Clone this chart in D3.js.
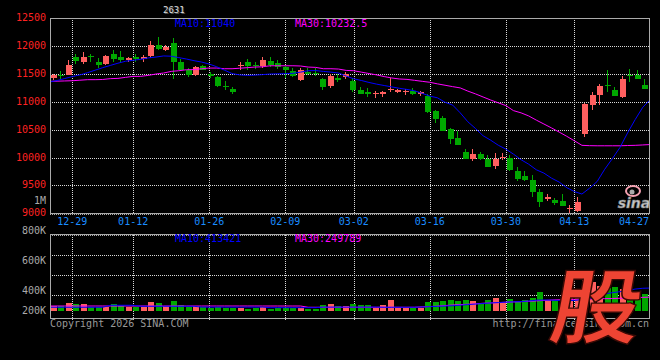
<!DOCTYPE html>
<html><head><meta charset="utf-8">
<script src="https://cdn.jsdelivr.net/npm/d3@7/dist/d3.min.js"></script>
<style>html,body{margin:0;padding:0;background:#000;} svg{display:block;}</style>
</head><body><svg id="c" width="660" height="360"></svg>
<script>
const dates = ["12-23","12-24","12-26","12-29","12-30","12-31","01-05","01-06","01-07","01-08",
"01-09","01-12","01-13","01-14","01-15","01-16","01-19","01-20","01-21","01-22",
"01-23","01-26","01-27","01-28","01-29","01-30","02-02","02-03","02-04","02-05",
"02-06","02-09","02-10","02-11","02-12","02-13","02-24","02-25","02-26","02-27",
"03-02","03-03","03-04","03-05","03-06","03-09","03-10","03-11","03-12","03-13",
"03-16","03-17","03-18","03-19","03-20","03-23","03-24","03-25","03-26","03-27",
"03-30","03-31","04-01","04-02","04-06","04-07","04-08","04-09","04-10","04-13",
"04-14","04-15","04-16","04-17","04-20","04-21","04-22","04-23","04-24","04-27"];

const open = [11425,11484,11484,11810,11703,11823,11720,11675,11858,11800,
11740,11810,11763,11823,12019,11930,12045,11703,11573,11472,
11632,11497,11437,11290,11234,11640,11703,11660,11632,11733,
11692,11621,11543,11395,11525,11514,11407,11275,11430,11443,
11365,11217,11170,11134,11146,11205,11170,11170,11188,11140,
11098,10830,10700,10504,10343,10106,9969,10058,9969,9850,
10000,10000,9760,9671,9600,9375,9256,9244,9215,9078,
9050,10415,10937,11127,11300,11217,11087,11484,11484,11306];
const high = [11500,11555,11740,11853,11889,11853,11790,11830,11930,11900,
11810,11850,11840,12095,12156,12010,12138,11770,11600,11640,
11662,11535,11465,11365,11270,11705,11764,11705,11810,11800,
11750,11632,11600,11603,11600,11600,11425,11490,11490,11530,
11425,11260,11240,11200,11200,11425,11230,11220,11240,11200,
11146,10860,10740,10530,10473,10160,10147,10100,10040,10075,
10080,10040,9830,9760,9690,9434,9345,9270,9345,9150,
9290,10980,11170,11318,11560,11258,11454,11590,11560,11413];
const low = [11390,11410,11472,11675,11680,11720,11605,11660,11720,11690,
11720,11720,11720,11790,11930,11915,11407,11543,11450,11460,
11560,11430,11270,11217,11130,11565,11573,11580,11605,11620,
11590,11425,11440,11365,11470,11460,11217,11240,11350,11400,
11170,11130,11083,11070,11090,11170,11150,11115,11120,11100,
10789,10622,10473,10236,10218,9969,9940,9950,9832,9790,
9950,9760,9570,9570,9290,9110,9220,9140,9137,9010,
9020,10374,10850,10937,11170,11098,11070,11347,11400,11230];
const close = [11484,11466,11662,11721,11805,11800,11650,11823,11769,11740,
11792,11757,11810,12019,11942,11988,11703,11573,11472,11614,
11573,11466,11275,11265,11170,11662,11632,11645,11751,11662,
11621,11561,11466,11561,11502,11490,11265,11454,11395,11502,
11217,11146,11134,11158,11170,11229,11205,11188,11146,11170,
10812,10682,10473,10325,10218,9969,10058,9969,9832,9969,
10015,9780,9612,9600,9375,9197,9285,9185,9137,9100,
9197,10950,11127,11288,11275,11110,11413,11454,11407,11230];

const volume = [90000,90000,150000,126000,126000,67000,67000,67000,126000,85000,
67000,67000,77000,167000,150000,90000,185000,103000,67000,90000,
67000,60000,67000,60000,60000,60000,41000,49000,77000,41000,
60000,60000,60000,60000,41000,41000,108000,126000,90000,90000,
126000,108000,108000,60000,108000,198000,60000,60000,60000,60000,
167000,167000,185000,203000,185000,203000,180000,139000,198000,239000,
139000,216000,167000,198000,239000,347000,198000,198000,220000,280000,
350000,600000,527000,450000,420000,437000,400000,306000,330000,306000];

const ma10 = [11354,11380,11415,11450,11480,11520,11565,11610,11650,11690,
11725,11742,11760,11785,11800,11820,11815,11790,11765,11735,
11710,11675,11625,11565,11505,11480,11472,11476,11485,11496,
11500,11502,11508,11530,11555,11558,11543,11530,11514,11460,
11410,11380,11345,11315,11290,11265,11240,11220,11195,11150,
11100,11070,10990,10940,10800,10640,10520,10390,10310,10220,
10150,10060,9960,9880,9780,9720,9630,9560,9460,9390,
9345,9450,9570,9790,9980,10180,10440,10680,10900,11040];
const ma30 = [11365,11368,11372,11376,11385,11395,11395,11398,11413,11418,
11436,11454,11454,11472,11496,11514,11543,11555,11573,11575,
11591,11603,11603,11591,11591,11600,11610,11621,11625,11644,
11644,11644,11644,11640,11621,11615,11591,11591,11585,11561,
11555,11530,11505,11480,11450,11425,11407,11400,11383,11365,
11348,11320,11295,11270,11247,11190,11140,11085,11030,10980,
10930,10840,10800,10745,10670,10600,10530,10456,10380,10300,
10218,10212,10210,10210,10210,10210,10215,10218,10225,10232.5];

const volMa10 = [67000,67000,67000,67000,67000,67000,67000,67000,103000,103000,
103000,103000,85000,85000,85000,85000,85000,85000,85000,85000,
70000,70000,70000,70000,70000,70000,70000,70000,70000,60000,
60000,60000,60000,60000,60000,60000,70000,70000,70000,70000,
70000,70000,70000,70000,67000,67000,67000,67000,67000,72000,
78000,84000,90000,95000,105000,115000,125000,135000,145000,152000,
160000,165000,170000,180000,195000,198000,195000,190000,185000,190000,
205000,216000,260000,306000,330000,347000,370000,395000,409000,413421];
const volMa30 = [90000,90000,90000,90000,90000,90000,90000,90000,90000,90000,
90000,90000,90000,90000,90000,90000,90000,90000,90000,90000,
90000,90000,90000,90000,90000,90000,90000,90000,90000,90000,
90000,90000,90000,90000,67000,67000,67000,67000,67000,67000,
67000,67000,67000,67000,67000,67000,67000,67000,67000,75000,
80000,88000,98000,108000,115000,122000,128000,139000,145000,150000,
158000,163000,167000,175000,182000,190000,198000,202000,206000,210000,
214000,216000,219000,222000,225000,229000,235000,240000,245000,249789];

const priceTicks = [12500,12000,11500,11000,10500,10000,9500,9000];
const tickDates = ["12-29","01-12","01-26","02-09","03-02","03-16","03-30","04-13","04-27"];
const volTickValues = [1000000,800000,600000,400000,200000];
const volTickLabels = ["1M","800K","600K","400K","200K"];

const UP = "#ff5f5f", DOWN = "#00a800";
const GRID = "#d8d8d8", BORDER = "#aaaaaa";
const FONT = "'DejaVu Sans Mono', monospace";

const svg = d3.select("#c");
svg.append("rect").attr("width",660).attr("height",360).attr("fill","#000");

const L = 50, R = 649, T = 18, B = 213.3, VT = 234.5, VB = 318.5, VBASE = 311;

const xBand = d3.scaleBand().domain(d3.range(dates.length)).range([L, R]).paddingInner(0.2).paddingOuter(0.1);
const xLine = d3.scaleLinear().domain([0, dates.length - 1]).range([49.5, 650.4]);
const y = d3.scaleLinear().domain([9000, 12500]).range([B, T]);
const yVol = d3.scaleLinear().domain([0, 1000000]).range([VBASE, VBASE - 1000000/18000]);
const yVolLab = d3.scaleLinear().domain([200000, 1000000]).range([321, 200]);

const px = v => Math.round(v) + 0.5;

svg.append("defs").append("clipPath").attr("id","clipM").append("rect").attr("x",L).attr("y",T).attr("width",R-L+1).attr("height",B-T+1);
svg.select("defs").append("clipPath").attr("id","clipV").append("rect").attr("x",L).attr("y",VT).attr("width",R-L+1).attr("height",VB-VT);

// ---------- grids ----------
const g = svg.append("g").attr("shape-rendering","crispEdges");
const tickIdx = tickDates.map(t => dates.indexOf(t));
g.selectAll(".hg").data(priceTicks.filter(v => v > 9000 && v < 12500)).enter().append("line")
  .attr("x1",L).attr("x2",R).attr("y1",d=>px(y(d))).attr("y2",d=>px(y(d)))
  .attr("stroke",GRID).attr("stroke-dasharray","1,1");
g.selectAll(".vg").data(tickIdx.slice(0,-1)).enter().append("line")
  .attr("x1",d=>px(xLine(d))).attr("x2",d=>px(xLine(d))).attr("y1",T).attr("y2",B)
  .attr("stroke",GRID).attr("stroke-dasharray","1,1");
[1,2,3].forEach(k => {
  g.append("line").attr("x1",L).attr("x2",R).attr("y1",VT+20*k+0.5).attr("y2",VT+20*k+0.5)
   .attr("stroke",GRID).attr("stroke-dasharray","1,1");
});
g.selectAll(".vvg").data(tickIdx.slice(0,-1)).enter().append("line")
  .attr("x1",d=>px(xLine(d))).attr("x2",d=>px(xLine(d))).attr("y1",VT).attr("y2",VB+2)
  .attr("stroke",GRID).attr("stroke-dasharray","1,1");

// ---------- candles ----------
const bw = Math.round(xBand.bandwidth());
const cg = svg.append("g").attr("clip-path","url(#clipM)").attr("shape-rendering","crispEdges");
dates.forEach((d,i) => {
  const col = close[i] >= open[i] ? UP : DOWN;
  const x0 = Math.round(xBand(i));
  cg.append("line").attr("x1",x0+2.5).attr("x2",x0+2.5)
    .attr("y1",y(high[i])).attr("y2",y(low[i])).attr("stroke",col).attr("stroke-width",1);
  const yt = y(Math.max(open[i],close[i])), yb = y(Math.min(open[i],close[i]));
  cg.append("rect").attr("x",x0).attr("width",bw).attr("y",yt).attr("height",Math.max(1,yb-yt)).attr("fill",col);
});

const lineM = arr => d3.line().x((d,i)=>xLine(i)).y(d=>y(d))(arr);
const lg = svg.append("g").attr("clip-path","url(#clipM)");
lg.append("path").attr("d",lineM(ma30)).attr("fill","none").attr("stroke","#ff00ff").attr("stroke-width",1);
lg.append("path").attr("d",lineM(ma10)).attr("fill","none").attr("stroke","#0000ff").attr("stroke-width",1);

// ---------- volume ----------
const vg = svg.append("g").attr("clip-path","url(#clipV)").attr("shape-rendering","crispEdges");
dates.forEach((d,i) => {
  const col = close[i] >= open[i] ? UP : DOWN;
  const x0 = Math.round(xBand(i));
  vg.append("rect").attr("x",x0).attr("width",bw).attr("y",yVol(volume[i])).attr("height",VBASE-yVol(volume[i])).attr("fill",col);
});
const lineV = arr => d3.line().x((d,i)=>xLine(i)).y(d=>yVol(d))(arr);
const lvg = svg.append("g").attr("clip-path","url(#clipV)");
lvg.append("path").attr("d",lineV(volMa30)).attr("fill","none").attr("stroke","#ff00ff").attr("stroke-width",1);
lvg.append("path").attr("d",lineV(volMa10)).attr("fill","none").attr("stroke","#0000ff").attr("stroke-width",1);

// ---------- borders ----------
const bg = svg.append("g").attr("shape-rendering","crispEdges");
bg.append("line").attr("x1",L).attr("x2",R).attr("y1",T+0.5).attr("y2",T+0.5).attr("stroke",BORDER);
bg.append("line").attr("x1",L+0.5).attr("x2",L+0.5).attr("y1",T).attr("y2",B+1).attr("stroke",BORDER);
bg.append("line").attr("x1",R+0.5).attr("x2",R+0.5).attr("y1",T).attr("y2",B+1).attr("stroke",BORDER);
bg.append("line").attr("x1",L).attr("x2",R+1).attr("y1",px(B)).attr("y2",px(B)).attr("stroke",BORDER);
bg.append("line").attr("x1",L).attr("x2",R+1).attr("y1",px(B)+1).attr("y2",px(B)+1).attr("stroke",BORDER).attr("stroke-dasharray","1,1");
bg.append("line").attr("x1",L).attr("x2",R+1).attr("y1",VT).attr("y2",VT).attr("stroke",BORDER);
bg.append("line").attr("x1",L).attr("x2",R+1).attr("y1",VT+1).attr("y2",VT+1).attr("stroke",BORDER).attr("stroke-dasharray","1,1");
bg.append("line").attr("x1",L+0.5).attr("x2",L+0.5).attr("y1",VT).attr("y2",VB).attr("stroke",BORDER);
bg.append("line").attr("x1",R+0.5).attr("x2",R+0.5).attr("y1",VT).attr("y2",VB).attr("stroke",BORDER);
bg.append("line").attr("x1",L).attr("x2",R+1).attr("y1",VB).attr("y2",VB).attr("stroke",BORDER);

// ---------- texts ----------
const tg = svg.append("g").attr("font-family",FONT).attr("font-size","10px");
tg.selectAll(".pl").data(priceTicks).enter().append("text")
  .attr("x",46).attr("y",d=>y(d)+3).attr("text-anchor","end").attr("fill","#ff2222").text(d=>d);
tg.selectAll(".vl").data(volTickValues).enter().append("text")
  .attr("x",46).attr("y",d=>Math.min(yVolLab(d),310)+3.5).attr("text-anchor","end").attr("fill","#aaaaaa")
  .text((d,i)=>volTickLabels[i]);
tg.selectAll(".dl").data(tickDates).enter().append("text")
  .attr("x",(d,i)=> i===tickDates.length-1 ? R : xLine(tickIdx[i]))
  .attr("y",225).attr("text-anchor",(d,i)=> i===tickDates.length-1 ? "end" : "middle")
  .attr("fill","#1a8cff").text(d=>d);

tg.append("text").attr("x",175).attr("y",27).attr("fill","#0000ff").text("MA10:" + ma10[ma10.length-1]);
tg.append("text").attr("x",295).attr("y",27).attr("fill","#ff00ff").text("MA30:" + ma30[ma30.length-1]);
tg.append("text").attr("x",175).attr("y",242).attr("fill","#0000ff").text("MA10:" + volMa10[volMa10.length-1]);
tg.append("text").attr("x",295).attr("y",242).attr("fill","#ff00ff").text("MA30:" + volMa30[volMa30.length-1]);

tg.append("text").attr("x",164).attr("y",14).attr("fill","#555").attr("font-size","9px").text("2631");
tg.append("text").attr("x",163).attr("y",13).attr("fill","#dddddd").attr("font-size","9px").text("2631");

tg.append("text").attr("x",50).attr("y",327).attr("fill","#999999").text("Copyright 2026 SINA.COM");
tg.append("text").attr("x",R).attr("y",327).attr("text-anchor","end").attr("fill","#999999").text("http://finance.sina.com.cn");

// sina logo
const sl = svg.append("g");
sl.append("ellipse").attr("cx",633).attr("cy",191).attr("rx",7).attr("ry",5).attr("fill","none").attr("stroke","#f4a0b0").attr("stroke-width",2);
sl.append("circle").attr("cx",632).attr("cy",192).attr("r",2.5).attr("fill","#aaa");
sl.append("text").attr("x",634).attr("y",208).attr("text-anchor","middle").attr("font-family","'DejaVu Sans', sans-serif")
  .attr("font-size","14px").attr("font-weight","bold").attr("font-style","italic").attr("fill","#c8c8c8").attr("stroke","#777").attr("stroke-width",0.6).text("sina");

// watermark
svg.append("text").attr("transform","translate(592,337) skewX(-10) scale(1.05,0.95)")
  .attr("text-anchor","middle").attr("font-family","'Noto Sans CJK SC', sans-serif").attr("font-weight","bold")
  .attr("font-size","86px").attr("fill","#ee4433").attr("stroke","#3a0a05").attr("stroke-width",1.5).text("股");
</script></body></html>
